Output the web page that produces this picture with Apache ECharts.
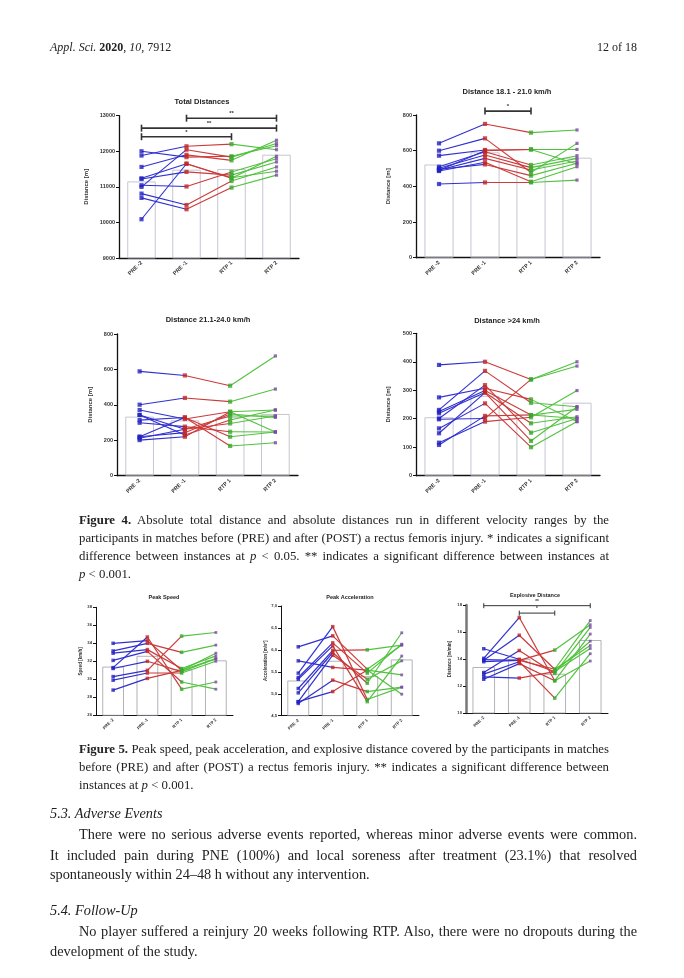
<!DOCTYPE html>
<html><head><meta charset="utf-8">
<script src="https://cdn.jsdelivr.net/npm/echarts@6/dist/echarts.min.js"></script>
<style>
html,body{margin:0;padding:0;background:#fff;}
#page{position:relative;width:684px;height:978px;overflow:hidden;background:#fff;}
#chart{position:absolute;left:0;top:0;width:684px;height:978px;}
.t{position:absolute;font-family:'Liberation Serif','DejaVu Serif',serif;color:#222;white-space:nowrap;}
.cap{font-size:12.8px;line-height:18px;height:18px;}
.body{font-size:14.3px;line-height:20px;height:20px;}
</style></head>
<body>
<div id="page">
<div id="chart"></div>
<div class="t" style="left:50px;top:40px;font-size:12px;line-height:14px;"><i>Appl. Sci.</i> <b>2020</b>, <i>10</i>, 7912</div>
<div class="t" style="right:47px;top:40px;font-size:12px;line-height:14px;">12 of 18</div>

<div class="t cap j" data-w="530" style="left:79px;top:511px;"><b>Figure 4.</b> Absolute total distance and absolute distances run in different velocity ranges by the</div>
<div class="t cap j" data-w="530" style="left:79px;top:529px;">participants in matches before (PRE) and after (POST) a rectus femoris injury. * indicates a significant</div>
<div class="t cap j" data-w="530" style="left:79px;top:547px;">difference between instances at <i>p</i> &lt; 0.05. ** indicates a significant difference between instances at</div>
<div class="t cap" style="left:79px;top:565px;"><i>p</i> &lt; 0.001.</div>

<div class="t cap j" data-w="530" style="left:79px;top:740px;"><b>Figure 5.</b> Peak speed, peak acceleration, and explosive distance covered by the participants in matches</div>
<div class="t cap j" data-w="530" style="left:79px;top:758px;">before (PRE) and after (POST) a rectus femoris injury. ** indicates a significant difference between</div>
<div class="t cap" style="left:79px;top:776px;">instances at <i>p</i> &lt; 0.001.</div>

<div class="t body" style="left:50px;top:803px;"><i>5.3. Adverse Events</i></div>
<div class="t body j" data-w="558" style="left:79px;top:824px;">There were no serious adverse events reported, whereas minor adverse events were common.</div>
<div class="t body j" data-w="587" style="left:50px;top:845px;">It included pain during PNE (100%) and local soreness after treatment (23.1%) that resolved</div>
<div class="t body" style="left:50px;top:864px;">spontaneously within 24–48 h without any intervention.</div>
<div class="t body" style="left:50px;top:900px;"><i>5.4. Follow-Up</i></div>
<div class="t body j" data-w="558" style="left:79px;top:921px;">No player suffered a reinjury 20 weeks following RTP. Also, there were no dropouts during the</div>
<div class="t body" style="left:50px;top:941px;">development of the study.</div>
</div>
<script>
// ---------- data ----------
const cats = ['PRE -2', 'PRE -1', 'RTP 1', 'RTP 2'];

// Total Distances [m]
const totPre2 = [12000, 11880, 11560, 11240, 11220, 11045, 10810, 10690, 10090, 11000];
const totPre1 = [11835, 12140, 11900, 11650, 11420, 11010, 10490, 10370, 11650, 12045];
const totRtp1 = [11860, 12200, 11745, 11240, 11330, 11420, 11165, 10980, 11255, 11835];
const totRtp2 = [12155, 12045, 12310, 11860, 11700, 11790, 11560, 11330, 11440, 12220];
const totMean = [11150, 11480, 11500, 11900];
const totSig = [[1, 3, 12930], [0, 3, 12650], [0, 2, 12410]];
const totSigLab = ['**', '**', '*'];

// Distance 18.1 - 21.0 km/h [m]
const d18Pre2 = [641, 600, 572, 510, 501, 492, 486, 496, 413, 490];
const d18Pre1 = [750, 669, 604, 594, 576, 557, 535, 523, 422, 600];
const d18Rtp1 = [701, 478, 607, 520, 505, 492, 426, 460, 422, 607];
const d18Rtp2 = [716, 641, 607, 572, 557, 542, 510, 530, 435, 525];
const d18Mean = [522, 590, 515, 560];
const d18Sig = [[1, 2, 822]];
const d18SigLab = ['*'];

// Distance 21.1-24.0 km/h [m]
const d21Pre2 = [589, 401, 371, 343, 314, 299, 220, 211, 201, 343, 220];
const d21Pre1 = [566, 439, 320, 262, 329, 277, 243, 262, 220, 230, 329];
const d21Rtp1 = [508, 418, 361, 295, 168, 248, 348, 337, 361, 314, 220];
const d21Rtp2 = [676, 489, 371, 337, 186, 247, 329, 337, 247, 371, 247];
const d21Mean = [333, 312, 330, 348];

// Distance >24 km/h [m]
const d24Pre2 = [389, 275, 231, 225, 219, 201, 198, 166, 149, 116, 108];
const d24Pre1 = [400, 307, 368, 299, 292, 318, 201, 254, 292, 190, 210];
const d24Rtp1 = [338, 268, 256, 213, 184, 151, 338, 100, 122, 205, 213];
const d24Rtp2 = [400, 190, 242, 233, 207, 201, 385, 190, 242, 299, 201];
const d24Mean = [205, 280, 215, 256];

// Peak Speed [km/h]
const spdPre2 = [34.0, 33.15, 32.9, 32.1, 31.3, 31.2, 30.3, 29.9, 28.8];
const spdPre1 = [34.3, 34.0, 33.3, 33.1, 34.7, 32.0, 31.0, 30.7, 30.1];
const spdRtp1 = [31.0, 33.0, 31.2, 29.7, 28.9, 30.85, 34.8, 30.7, 31.0];
const spdRtp2 = [32.9, 33.8, 32.6, 28.9, 29.7, 32.3, 35.2, 32.0, 32.3];
const spdMean = [31.4, 32.6, 31.1, 32.1];

// Peak Acceleration [m/s2]
const accPre2 = [6.07, 5.75, 5.47, 5.37, 5.33, 5.12, 5.02, 4.82, 4.78, 4.82];
const accPre1 = [6.32, 5.60, 6.53, 6.16, 6.09, 5.99, 5.94, 5.88, 5.31, 5.05];
const accRtp1 = [5.56, 5.54, 4.87, 5.47, 4.82, 6.00, 5.24, 5.33, 5.05, 5.54];
const accRtp2 = [6.11, 5.43, 5.15, 6.13, 5.86, 6.11, 6.39, 5.75, 5.15, 4.99];
const accMean = [5.30, 5.75, 5.40, 5.78];

// Explosive Distance [m/min]
const expPre2 = [14.76, 14.05, 13.90, 13.80, 13.00, 12.88, 12.68, 12.50, 13.95];
const expPre1 = [13.98, 17.07, 15.76, 13.90, 14.63, 13.80, 12.59, 13.66, 13.90];
const expRtp1 = [13.07, 12.39, 13.24, 14.66, 12.93, 11.10, 13.07, 12.39, 13.24];
const expRtp2 = [15.32, 15.85, 16.85, 16.54, 16.34, 14.39, 14.78, 13.85, 15.00];
const expMean = [13.4, 14.0, 12.9, 15.4];
const expSig = [[0, 3, 17.95], [1, 2, 17.4]];
const expSigLab = ['**', '*'];

// ---------- layout / style ----------
const BLUE = '#3030d0', RED = '#cc3a3a', GREEN = '#52c23e';
const MK = ['#2222c0', '#c02626', '#3aa82e', '#7a4aa6'];
const FF = 'Liberation Sans, Arial, sans-serif';

const panels = [
  {title: 'Total Distances', tx: 202, ty: 102, tfs: 7.5, grid: {left: 119, top: 115.7, width: 180, height: 142.3},
   y: {min: 9000, max: 13000, interval: 1000}, yname: 'Distance [m]', gap: 30, pts: [totPre2, totPre1, totRtp1, totRtp2], mean: totMean, sig: totSig, sigLab: totSigLab, big: true},
  {title: 'Distance 18.1 - 21.0 km/h', tx: 507, ty: 92, tfs: 7.5, grid: {left: 416, top: 115, width: 184, height: 142.7},
   y: {min: 0, max: 800, interval: 200}, yname: 'Distance [m]', gap: 25, pts: [d18Pre2, d18Pre1, d18Rtp1, d18Rtp2], mean: d18Mean, sig: d18Sig, sigLab: d18SigLab, big: true},
  {title: 'Distance 21.1-24.0 km/h', tx: 208, ty: 320, tfs: 7.5, grid: {left: 117, top: 334, width: 181, height: 141.7},
   y: {min: 0, max: 800, interval: 200}, yname: 'Distance [m]', gap: 24, pts: [d21Pre2, d21Pre1, d21Rtp1, d21Rtp2], mean: d21Mean, big: true},
  {title: 'Distance >24 km/h', tx: 507, ty: 321, tfs: 7.5, grid: {left: 416, top: 333.3, width: 184, height: 142.4},
   y: {min: 0, max: 500, interval: 100}, yname: 'Distance [m]', gap: 25, pts: [d24Pre2, d24Pre1, d24Rtp1, d24Rtp2], mean: d24Mean, big: true},
  {title: 'Peak Speed', tx: 164, ty: 597, tfs: 5.5, grid: {left: 96, top: 607.3, width: 137, height: 108},
   y: {min: 26, max: 38, interval: 2}, yname: 'Speed [km/h]', gap: 13, pts: [spdPre2, spdPre1, spdRtp1, spdRtp2], mean: spdMean, big: false},
  {title: 'Peak Acceleration', tx: 350, ty: 597, tfs: 5.5, grid: {left: 281, top: 606, width: 138, height: 109.7},
   y: {min: 4.5, max: 7.0, interval: 0.5}, yname: 'Acceleration [m/s²]', gap: 13, comma: true, pts: [accPre2, accPre1, accRtp1, accRtp2], mean: accMean, big: false},
  {title: 'Explosive Distance', tx: 535, ty: 595, tfs: 5.5, grid: {left: 466, top: 605, width: 142, height: 108},
   y: {min: 10, max: 18, interval: 2}, yname: 'Distance [m/min]', gap: 14, pts: [expPre2, expPre1, expRtp1, expRtp2], mean: expMean, sig: expSig, sigLab: expSigLab, big: false, thickY: true}
];

const option = {animation: false, grid: [], xAxis: [], yAxis: [], series: [], graphic: []};

panels.forEach((p, g) => {
  const lfs = p.big ? 5.5 : 4.2;
  option.grid.push(Object.assign({outerBoundsMode: 'none', containLabel: false}, p.grid));
  option.xAxis.push({
    type: 'category', gridIndex: g, data: cats, boundaryGap: true,
    axisLine: {lineStyle: {color: '#111', width: p.big ? 1.3 : 1}},
    axisTick: {alignWithLabel: true, length: 3, lineStyle: {color: '#111'}},
    axisLabel: {rotate: 45, fontSize: lfs, fontWeight: 'bold', color: '#333', margin: 4, fontFamily: FF, interval: 0},
    splitLine: {show: false}
  });
  option.yAxis.push({
    type: 'value', gridIndex: g, min: p.y.min, max: p.y.max, interval: p.y.interval,
    name: p.yname, nameLocation: 'middle', nameGap: p.gap, nameMoveOverlap: false,
    nameTextStyle: {fontSize: p.big ? 6 : 4.5, fontWeight: 'bold', color: '#333', fontFamily: FF},
    axisLine: {show: true, lineStyle: {color: p.thickY ? '#777' : '#111', width: p.thickY ? 2.5 : (p.big ? 1.3 : 1)}},
    axisTick: {show: true, length: 3, lineStyle: {color: '#111'}},
    splitLine: {show: false},
    axisLabel: {fontSize: lfs, fontWeight: 'bold', color: '#333', margin: 4, fontFamily: FF,
      formatter: p.comma ? (v => v.toFixed(1).replace('.', ',')) : (v => String(v))}
  });
  option.series.push({
    type: 'bar', xAxisIndex: g, yAxisIndex: g, data: p.mean, barWidth: '63%', silent: true, z: 1,
    itemStyle: {color: 'rgba(255,255,255,0)', borderColor: p.big ? '#b8b8c8' : '#a0a0a8', borderWidth: 0.8}
  });
  const segCols = [BLUE, RED, GREEN];
  const n = p.pts[0].length;
  for (let s = 0; s < 3; s++) {
    for (let i = 0; i < n; i++) {
      option.series.push({
        type: 'line', xAxisIndex: g, yAxisIndex: g, silent: true, z: 3 + s * 0.01,
        data: [[s, p.pts[s][i]], [s + 1, p.pts[s + 1][i]]],
        symbol: 'none', lineStyle: {color: segCols[s], width: p.big ? 1.1 : 1.2}
      });
    }
  }
  for (let s = 0; s < 4; s++) {
    option.series.push({
      type: 'scatter', xAxisIndex: g, yAxisIndex: g, silent: true, z: 4,
      data: p.pts[s].map(v => [s, v]), symbol: 'rect',
      symbolSize: s === 3 ? (p.big ? 3.2 : 2.8) : (p.big ? 4.2 : 3.5),
      itemStyle: {color: MK[s]}
    });
  }
  if (p.sig) {
    const labs = p.sigLab;
    option.series.push({
      type: 'custom', xAxisIndex: g, yAxisIndex: g, silent: true, z: 5, clip: false,
      data: p.sig, encode: {x: [0, 1], y: 2},
      renderItem: (params, api) => {
        const yv = api.value(2);
        const a = api.coord([api.value(0), yv]);
        const b = api.coord([api.value(1), yv]);
        const c = p.big ? 3.5 : 2.5;
        const st = {stroke: '#333', lineWidth: p.big ? 1.6 : 1};
        return {type: 'group', children: [
          {type: 'line', shape: {x1: a[0], y1: a[1], x2: b[0], y2: b[1]}, style: st},
          {type: 'line', shape: {x1: a[0], y1: a[1] - c, x2: a[0], y2: a[1] + c}, style: st},
          {type: 'line', shape: {x1: b[0], y1: b[1] - c, x2: b[0], y2: b[1] + c}, style: st},
          {type: 'text', x: (a[0] + b[0]) / 2, y: a[1] - 1.5,
           style: {text: labs[params.dataIndex], fill: '#333', font: 'bold ' + (p.big ? 6 : 4.5) + 'px ' + FF, align: 'center', verticalAlign: 'bottom'}}
        ]};
      }
    });
  }
  option.graphic.push({
    type: 'text', x: p.tx, y: p.ty, silent: true,
    style: {text: p.title, fill: '#222', font: 'bold ' + p.tfs + 'px ' + FF, align: 'center', verticalAlign: 'middle'}
  });
});

const chart = echarts.init(document.getElementById('chart'), null, {renderer: 'canvas'});
chart.setOption(option);

// justify single lines by adjusting word spacing
document.querySelectorAll('.j').forEach(el => {
  const w = parseFloat(el.dataset.w);
  el.style.wordSpacing = '0px';
  const nat = el.getBoundingClientRect().width;
  const spaces = (el.textContent.match(/ /g) || []).length;
  if (spaces) el.style.wordSpacing = ((w - nat) / spaces) + 'px';
});
</script>
</body></html>
